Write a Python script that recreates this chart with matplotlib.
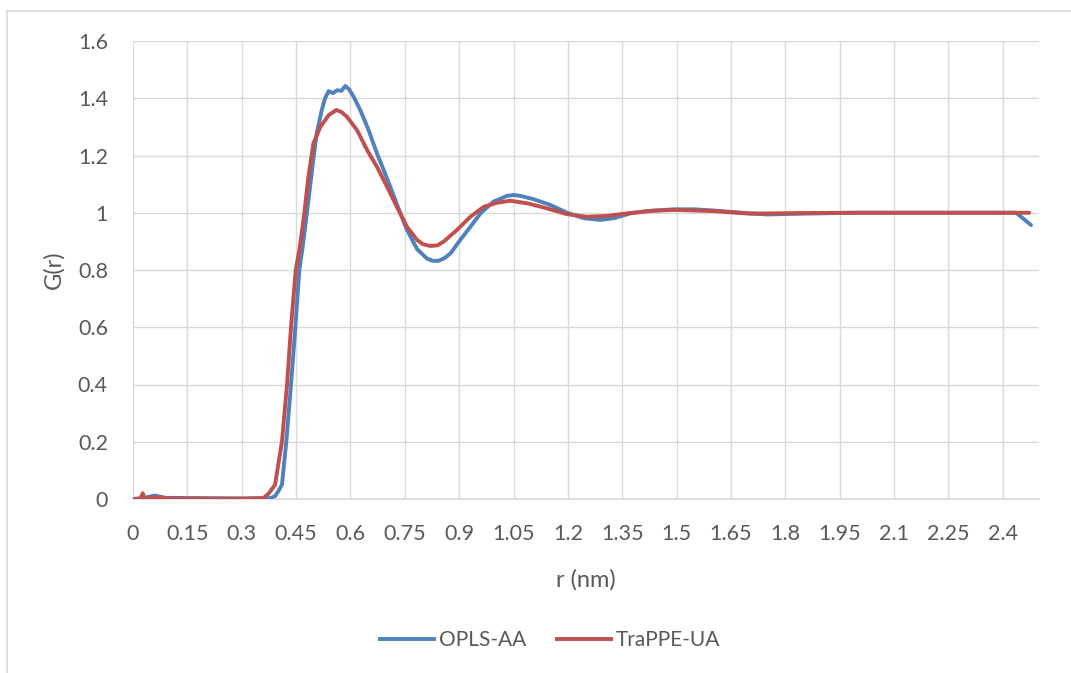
import matplotlib.pyplot as plt
from matplotlib.lines import Line2D

plt.rcParams['font.family'] = ['Lato', 'DejaVu Sans']

# OPLS-AA (blue)
r_opls = [0, 0.03, 0.06, 0.09, 0.2, 0.3, 0.38, 0.392, 0.40, 0.411, 0.423, 0.436,
          0.448, 0.459, 0.467, 0.48, 0.494, 0.507, 0.521, 0.530, 0.540, 0.552, 0.563,
          0.575, 0.586, 0.597, 0.609, 0.627, 0.650, 0.673, 0.701, 0.728, 0.756,
          0.784, 0.811, 0.827, 0.843, 0.86, 0.876, 0.903, 0.931, 0.959, 0.995,
          1.032, 1.05, 1.069, 1.106, 1.152, 1.198, 1.244, 1.290, 1.327, 1.373,
          1.419, 1.493, 1.55, 1.6, 1.7, 1.75, 1.85, 2.0, 2.2, 2.437, 2.478]
g_opls = [0, 0.004, 0.012, 0.004, 0.003, 0.002, 0.003, 0.01, 0.025, 0.05, 0.2, 0.4,
          0.6, 0.8, 0.87, 1.0, 1.149, 1.278, 1.359, 1.40, 1.425, 1.418, 1.428,
          1.426, 1.443, 1.43, 1.405, 1.359, 1.289, 1.208, 1.12, 1.03, 0.94,
          0.873, 0.84, 0.832, 0.832, 0.842, 0.858, 0.905, 0.951, 0.998, 1.039,
          1.059, 1.062, 1.059, 1.047, 1.027, 1.0, 0.981, 0.975, 0.981, 0.998,
          1.006, 1.012, 1.012, 1.008, 0.998, 0.994, 0.997, 1.0, 1.0, 1.0, 0.957]

# TraPPE-UA (red)
r_trappe = [0, 0.02, 0.027, 0.032, 0.06, 0.1, 0.2, 0.3, 0.36, 0.375, 0.392, 0.411,
            0.425, 0.436, 0.449, 0.459, 0.471, 0.484, 0.498, 0.517, 0.540, 0.561,
            0.575, 0.590, 0.618, 0.646, 0.673, 0.701, 0.728, 0.756, 0.784, 0.80,
            0.820, 0.84, 0.857, 0.894, 0.931, 0.968, 1.005, 1.041, 1.088, 1.143,
            1.198, 1.253, 1.309, 1.364, 1.437, 1.493, 1.6, 1.7, 1.85, 2.0, 2.473]
g_trappe = [0, 0.0, 0.02, 0.0, 0.006, 0.002, 0.001, 0.001, 0.003, 0.02, 0.05, 0.2,
            0.4, 0.6, 0.8, 0.87, 0.98, 1.126, 1.243, 1.30, 1.341, 1.359,
            1.352, 1.336, 1.289, 1.219, 1.161, 1.091, 1.021, 0.951, 0.905, 0.89,
            0.884, 0.886, 0.899, 0.94, 0.986, 1.021, 1.035, 1.042, 1.033, 1.015,
            0.995, 0.986, 0.989, 0.998, 1.007, 1.010, 1.006, 0.997, 0.999, 1.0, 1.0]

x_ticks = [0, 0.15, 0.3, 0.45, 0.6, 0.75, 0.9, 1.05, 1.2, 1.35, 1.5, 1.65, 1.8,
           1.95, 2.1, 2.25, 2.4]
x_labels = ['0', '0.15', '0.3', '0.45', '0.6', '0.75', '0.9', '1.05', '1.2', '1.35',
            '1.5', '1.65', '1.8', '1.95', '2.1', '2.25', '2.4']
y_ticks = [0, 0.2, 0.4, 0.6, 0.8, 1.0, 1.2, 1.4, 1.6]
y_labels = ['0', '0.2', '0.4', '0.6', '0.8', '1', '1.2', '1.4', '1.6']

W, H = 1071, 673
fig = plt.figure(figsize=(W / 100, H / 100), dpi=100)
ax = fig.add_axes([133 / W, 1 - 499 / H, (1039 - 133) / W, (499 - 41) / H])

grey = '#D9D9D9'
text_col = '#595959'
blue = '#4F81BD'
red = '#C0504D'

ax.plot(r_opls, g_opls, color=blue, lw=2.8, solid_capstyle='round', zorder=3)
ax.plot(r_trappe, g_trappe, color=red, lw=2.8, solid_capstyle='round', zorder=4)

ax.set_xlim(0, 2.5)
ax.set_ylim(0, 1.6)
ax.set_xticks(x_ticks)
ax.set_xticklabels(x_labels)
ax.set_yticks(y_ticks)
ax.set_yticklabels(y_labels)
ax.grid(True, color=grey, lw=1.0)
ax.set_axisbelow(True)
for s in ['top', 'right', 'left']:
    ax.spines[s].set_visible(False)
ax.spines['bottom'].set_color(grey)
ax.spines['bottom'].set_linewidth(1.2)
ax.tick_params(axis='both', length=0, labelsize=15.5, colors=text_col)
ax.tick_params(axis='x', pad=18)
ax.tick_params(axis='y', pad=18)

ax.set_xlabel('r (nm)', fontsize=17, color=text_col, labelpad=18)
ax.set_ylabel('G(r)', fontsize=17, color=text_col, labelpad=10)

handles = [Line2D([], [], color=blue, lw=2.8),
           Line2D([], [], color=red, lw=2.8)]
fig.legend(handles, ['OPLS-AA', 'TraPPE-UA'], loc='center', ncol=2,
           bbox_to_anchor=(550 / W, 1 - 640 / H), frameon=False, fontsize=15,
           labelcolor=text_col, handlelength=2.6, handletextpad=0.2,
           columnspacing=1.5)

# chart border (only top and left edges are visible)
fig.add_artist(Line2D([7 / W, 7 / W], [0, 1 - 11 / H], color=grey, lw=1.2))
fig.add_artist(Line2D([7 / W, 1], [1 - 11 / H, 1 - 11 / H], color=grey, lw=1.2))

fig.savefig('out.png', dpi=100)
